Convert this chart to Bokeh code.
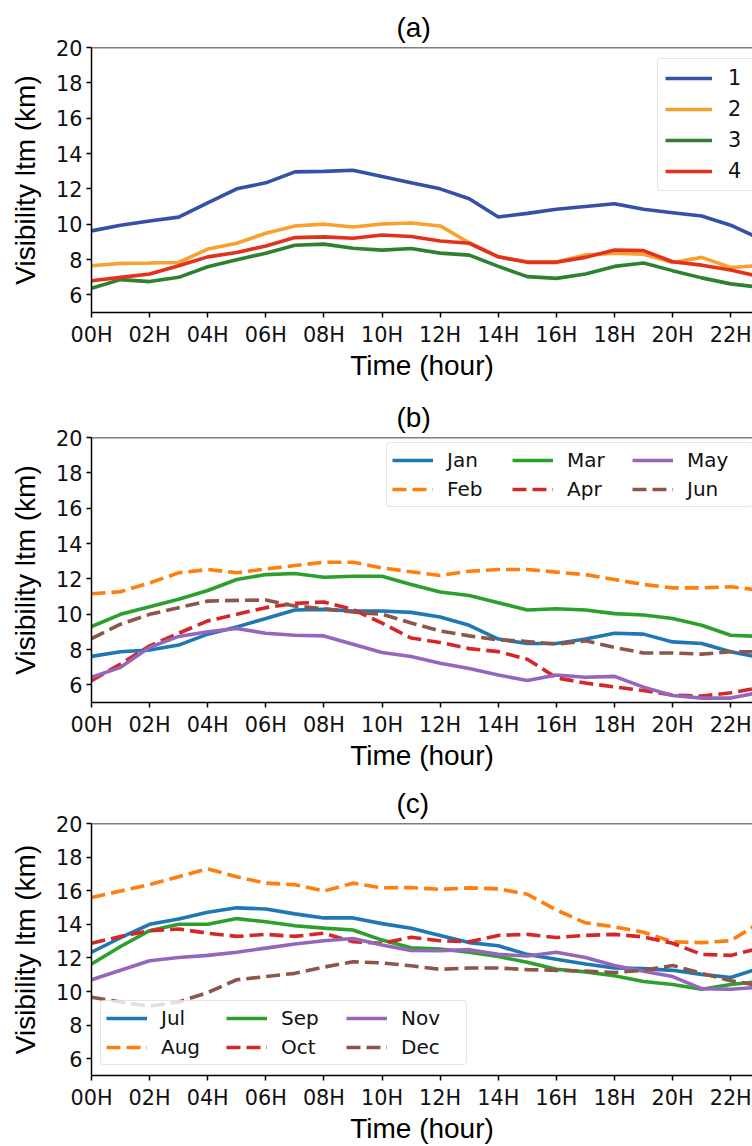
from bokeh.plotting import figure
from bokeh.models import Range1d, FixedTicker, Legend, LegendItem, Span, Title
from bokeh.layouts import column
from bokeh.embed import file_html
from bokeh.resources import INLINE

hours = list(range(24))
hour_labels = ["%02dH" % h for h in range(0, 24, 2)]

# Panel (a): clusters
cluster_names = ["1", "2", "3", "4"]
cluster1 = [9.62, 9.94, 10.18, 10.40, 11.2, 12.0, 12.34, 12.96, 12.99, 13.05, 12.7, 12.35,
            12.0, 11.44, 10.41, 10.61, 10.84, 11.0, 11.16, 10.84, 10.65, 10.46, 9.94, 9.18]
cluster2 = [7.65, 7.78, 7.80, 7.83, 8.59, 8.92, 9.49, 9.90, 10.0, 9.84, 10.01, 10.07,
            9.9, 8.95, 8.15, 7.87, 7.87, 8.25, 8.36, 8.3, 7.83, 8.12, 7.55, 7.65]
cluster3 = [6.37, 6.86, 6.75, 6.99, 7.59, 7.99, 8.36, 8.81, 8.87, 8.64, 8.53, 8.62,
            8.36, 8.25, 7.61, 7.03, 6.93, 7.18, 7.61, 7.8, 7.37, 6.96, 6.62, 6.43]
cluster4 = [6.8, 6.99, 7.18, 7.65, 8.15, 8.4, 8.77, 9.24, 9.28, 9.2, 9.39, 9.3,
            9.05, 8.92, 8.15, 7.84, 7.84, 8.12, 8.54, 8.5, 7.87, 7.68, 7.4, 7.03]

# Panel (b): Jan-Jun
months_b = ["Jan", "Feb", "Mar", "Apr", "May", "Jun"]
jan = [7.61, 7.87, 7.97, 8.25, 8.87, 9.28, 9.75, 10.24, 10.27, 10.18, 10.18, 10.1,
       9.84, 9.37, 8.59, 8.34, 8.34, 8.59, 8.92, 8.87, 8.43, 8.34, 7.87, 7.55]
feb = [11.16, 11.27, 11.77, 12.34, 12.53, 12.34, 12.56, 12.75, 12.94, 12.94, 12.62, 12.4,
       12.19, 12.43, 12.53, 12.53, 12.38, 12.24, 11.96, 11.68, 11.49, 11.49, 11.55, 11.36]
mar = [9.3, 9.99, 10.42, 10.84, 11.34, 11.96, 12.24, 12.3, 12.09, 12.15, 12.15, 11.68,
       11.25, 11.06, 10.65, 10.24, 10.31, 10.24, 10.03, 9.95, 9.75, 9.37, 8.81, 8.74]
apr = [6.24, 7.18, 8.21, 8.92, 9.62, 9.99, 10.37, 10.61, 10.69, 10.27, 9.49, 8.65,
       8.4, 8.05, 7.88, 7.45, 6.4, 6.1, 5.88, 5.68, 5.42, 5.36, 5.55, 5.85]
may = [6.43, 6.99, 8.12, 8.74, 9.0, 9.19, 8.92, 8.81, 8.77, 8.3, 7.83, 7.6,
       7.22, 6.93, 6.56, 6.24, 6.56, 6.43, 6.48, 5.87, 5.4, 5.25, 5.25, 5.58]
jun = [8.62, 9.43, 9.99, 10.37, 10.74, 10.78, 10.8, 10.46, 10.31, 10.12, 10.0, 9.5,
       9.05, 8.77, 8.55, 8.45, 8.3, 8.49, 8.12, 7.8, 7.8, 7.74, 7.87, 7.87]

# Panel (c): Jul-Dec
months_c = ["Jul", "Aug", "Sep", "Oct", "Nov", "Dec"]
jul = [12.34, 13.2, 14.0, 14.32, 14.72, 14.98, 14.91, 14.62, 14.38, 14.38, 14.04, 13.76,
       13.34, 12.91, 12.72, 12.21, 11.92, 11.64, 11.4, 11.36, 11.26, 11.02, 10.83, 11.4]
aug = [15.6, 15.98, 16.36, 16.83, 17.3, 16.83, 16.45, 16.36, 15.98, 16.45, 16.17, 16.19,
       16.08, 16.17, 16.11, 15.79, 14.85, 14.09, 13.85, 13.53, 12.96, 12.91, 13.02, 14.1]
sep = [11.64, 12.68, 13.62, 14.0, 14.0, 14.34, 14.15, 13.91, 13.77, 13.66, 13.06, 12.6,
       12.53, 12.34, 12.08, 11.74, 11.32, 11.17, 10.94, 10.6, 10.42, 10.13, 10.42, 10.6]
octo = [12.87, 13.28, 13.62, 13.72, 13.47, 13.28, 13.4, 13.28, 13.47, 12.96, 12.87, 13.23,
        13.02, 12.96, 13.34, 13.4, 13.21, 13.34, 13.4, 13.25, 12.87, 12.21, 12.15, 12.58]
nov = [10.7, 11.26, 11.83, 12.02, 12.15, 12.34, 12.58, 12.83, 13.02, 13.15, 12.77, 12.44,
       12.43, 12.49, 12.21, 12.11, 12.34, 12.02, 11.55, 11.21, 10.89, 10.17, 10.13, 10.26]
dec = [9.66, 9.38, 9.13, 9.38, 9.94, 10.7, 10.89, 11.08, 11.45, 11.77, 11.7, 11.53,
       11.32, 11.4, 11.4, 11.3, 11.26, 11.21, 11.13, 11.26, 11.55, 11.08, 10.64, 10.35]

colors_a = ["#3451A8", "#F9A12E", "#2F8132", "#E2321E"]
colors_tab = ["#1f77b4", "#ff7f0e", "#2ca02c", "#d62728", "#9467bd", "#8c564b"]
dashes_tab = ["solid", "14 6", "solid", "14 6", "solid", "14 6"]

TICK_FONT = "DejaVu Sans"
LABEL_FONT = "Liberation Sans"
LW = 3.6


def make_fig(height, top, bottom, title):
    p = figure(width=752, height=height, output_backend="svg", toolbar_location=None,
               x_range=Range1d(0, 22.75), y_range=Range1d(5, 20),
               min_border_left=91, min_border_right=0, min_border_top=top,
               min_border_bottom=bottom)
    p.title = Title(text=title, align="left", offset=305, text_font=LABEL_FONT,
                    text_font_size="28px", text_font_style="normal", text_color="black",
                    standoff=10)
    p.outline_line_color = None
    p.grid.visible = False
    p.background_fill_color = "white"
    p.border_fill_color = "white"
    p.xaxis.ticker = FixedTicker(ticks=list(range(0, 24, 2)))
    p.xaxis.major_label_overrides = {h: lab for h, lab in zip(range(0, 24, 2), hour_labels)}
    p.yaxis.ticker = FixedTicker(ticks=list(range(6, 21, 2)))
    for ax in (p.xaxis, p.yaxis):
        ax.major_label_text_font = TICK_FONT
        ax.major_label_text_font_size = "20.8px"
        ax.major_label_text_color = "#111111"
        ax.major_tick_out = 5
        ax.major_tick_in = 0
        ax.minor_tick_line_color = None
        ax.major_tick_line_width = 1.5
        ax.axis_line_width = 1.5
        ax.axis_line_color = "black"
        ax.major_tick_line_color = "black"
        ax.axis_label_text_font = LABEL_FONT
        ax.axis_label_text_font_size = "28px"
        ax.axis_label_text_font_style = "normal"
        ax.axis_label_text_color = "black"
    p.xaxis.major_label_standoff = 5
    p.yaxis.major_label_standoff = 4
    p.xaxis.axis_label = "Time (hour)"
    p.yaxis.axis_label = "Visibility ltm (km)"
    p.xaxis.axis_label_standoff = 0
    p.yaxis.axis_label_standoff = 12
    p.add_layout(Span(location=20, dimension="width", line_color="black", line_width=1.5))
    return p


def style_legend(lg, font_size):
    lg.label_text_font = TICK_FONT
    lg.label_text_font_size = font_size
    lg.label_text_color = "#111111"
    lg.border_line_color = "#cccccc"
    lg.border_line_width = 1.5
    lg.background_fill_color = "white"
    lg.background_fill_alpha = 0.8
    lg.border_radius = 4


# Panel (a)
pa = make_fig(390, 47, 78, "(a)")
items_a = []
for name, ys, c in zip(cluster_names, [cluster1, cluster2, cluster3, cluster4], colors_a):
    r = pa.line(hours, ys, line_color=c, line_width=LW)
    items_a.append(LegendItem(label=name, renderers=[r]))
lg_a = Legend(items=items_a, location=(566, 121), glyph_width=47, label_standoff=16,
              padding=7, spacing=7)
style_legend(lg_a, "20.8px")
pa.add_layout(lg_a)

# Panel (b)
pb = make_fig(390, 47, 78, "(b)")
items_b = []
for name, ys, c, d in zip(months_b, [jan, feb, mar, apr, may, jun], colors_tab, dashes_tab):
    r = pb.line(hours, ys, line_color=c, line_width=LW, line_dash=d)
    items_b.append(LegendItem(label=name, renderers=[r]))
lg_b = Legend(items=items_b, location=(295, 195), ncols=3, glyph_width=41, label_standoff=14,
              label_width=60, padding=5, spacing=5)
style_legend(lg_b, "20px")
pb.add_layout(lg_b)

# Panel (c)
pc = make_fig(366, 38, 62, "(c)")
items_c = []
for name, ys, c, d in zip(months_c, [jul, aug, sep, octo, nov, dec], colors_tab, dashes_tab):
    r = pc.line(hours, ys, line_color=c, line_width=LW, line_dash=d)
    items_c.append(LegendItem(label=name, renderers=[r]))
lg_c = Legend(items=items_c, location=(9, 10), ncols=3, glyph_width=41, label_standoff=14,
              label_width=60, padding=5, spacing=5)
style_legend(lg_c, "20px")
pc.add_layout(lg_c)

layout = column(pa, pb, pc, spacing=0)
open("out.html", "w").write(file_html(layout, INLINE))
